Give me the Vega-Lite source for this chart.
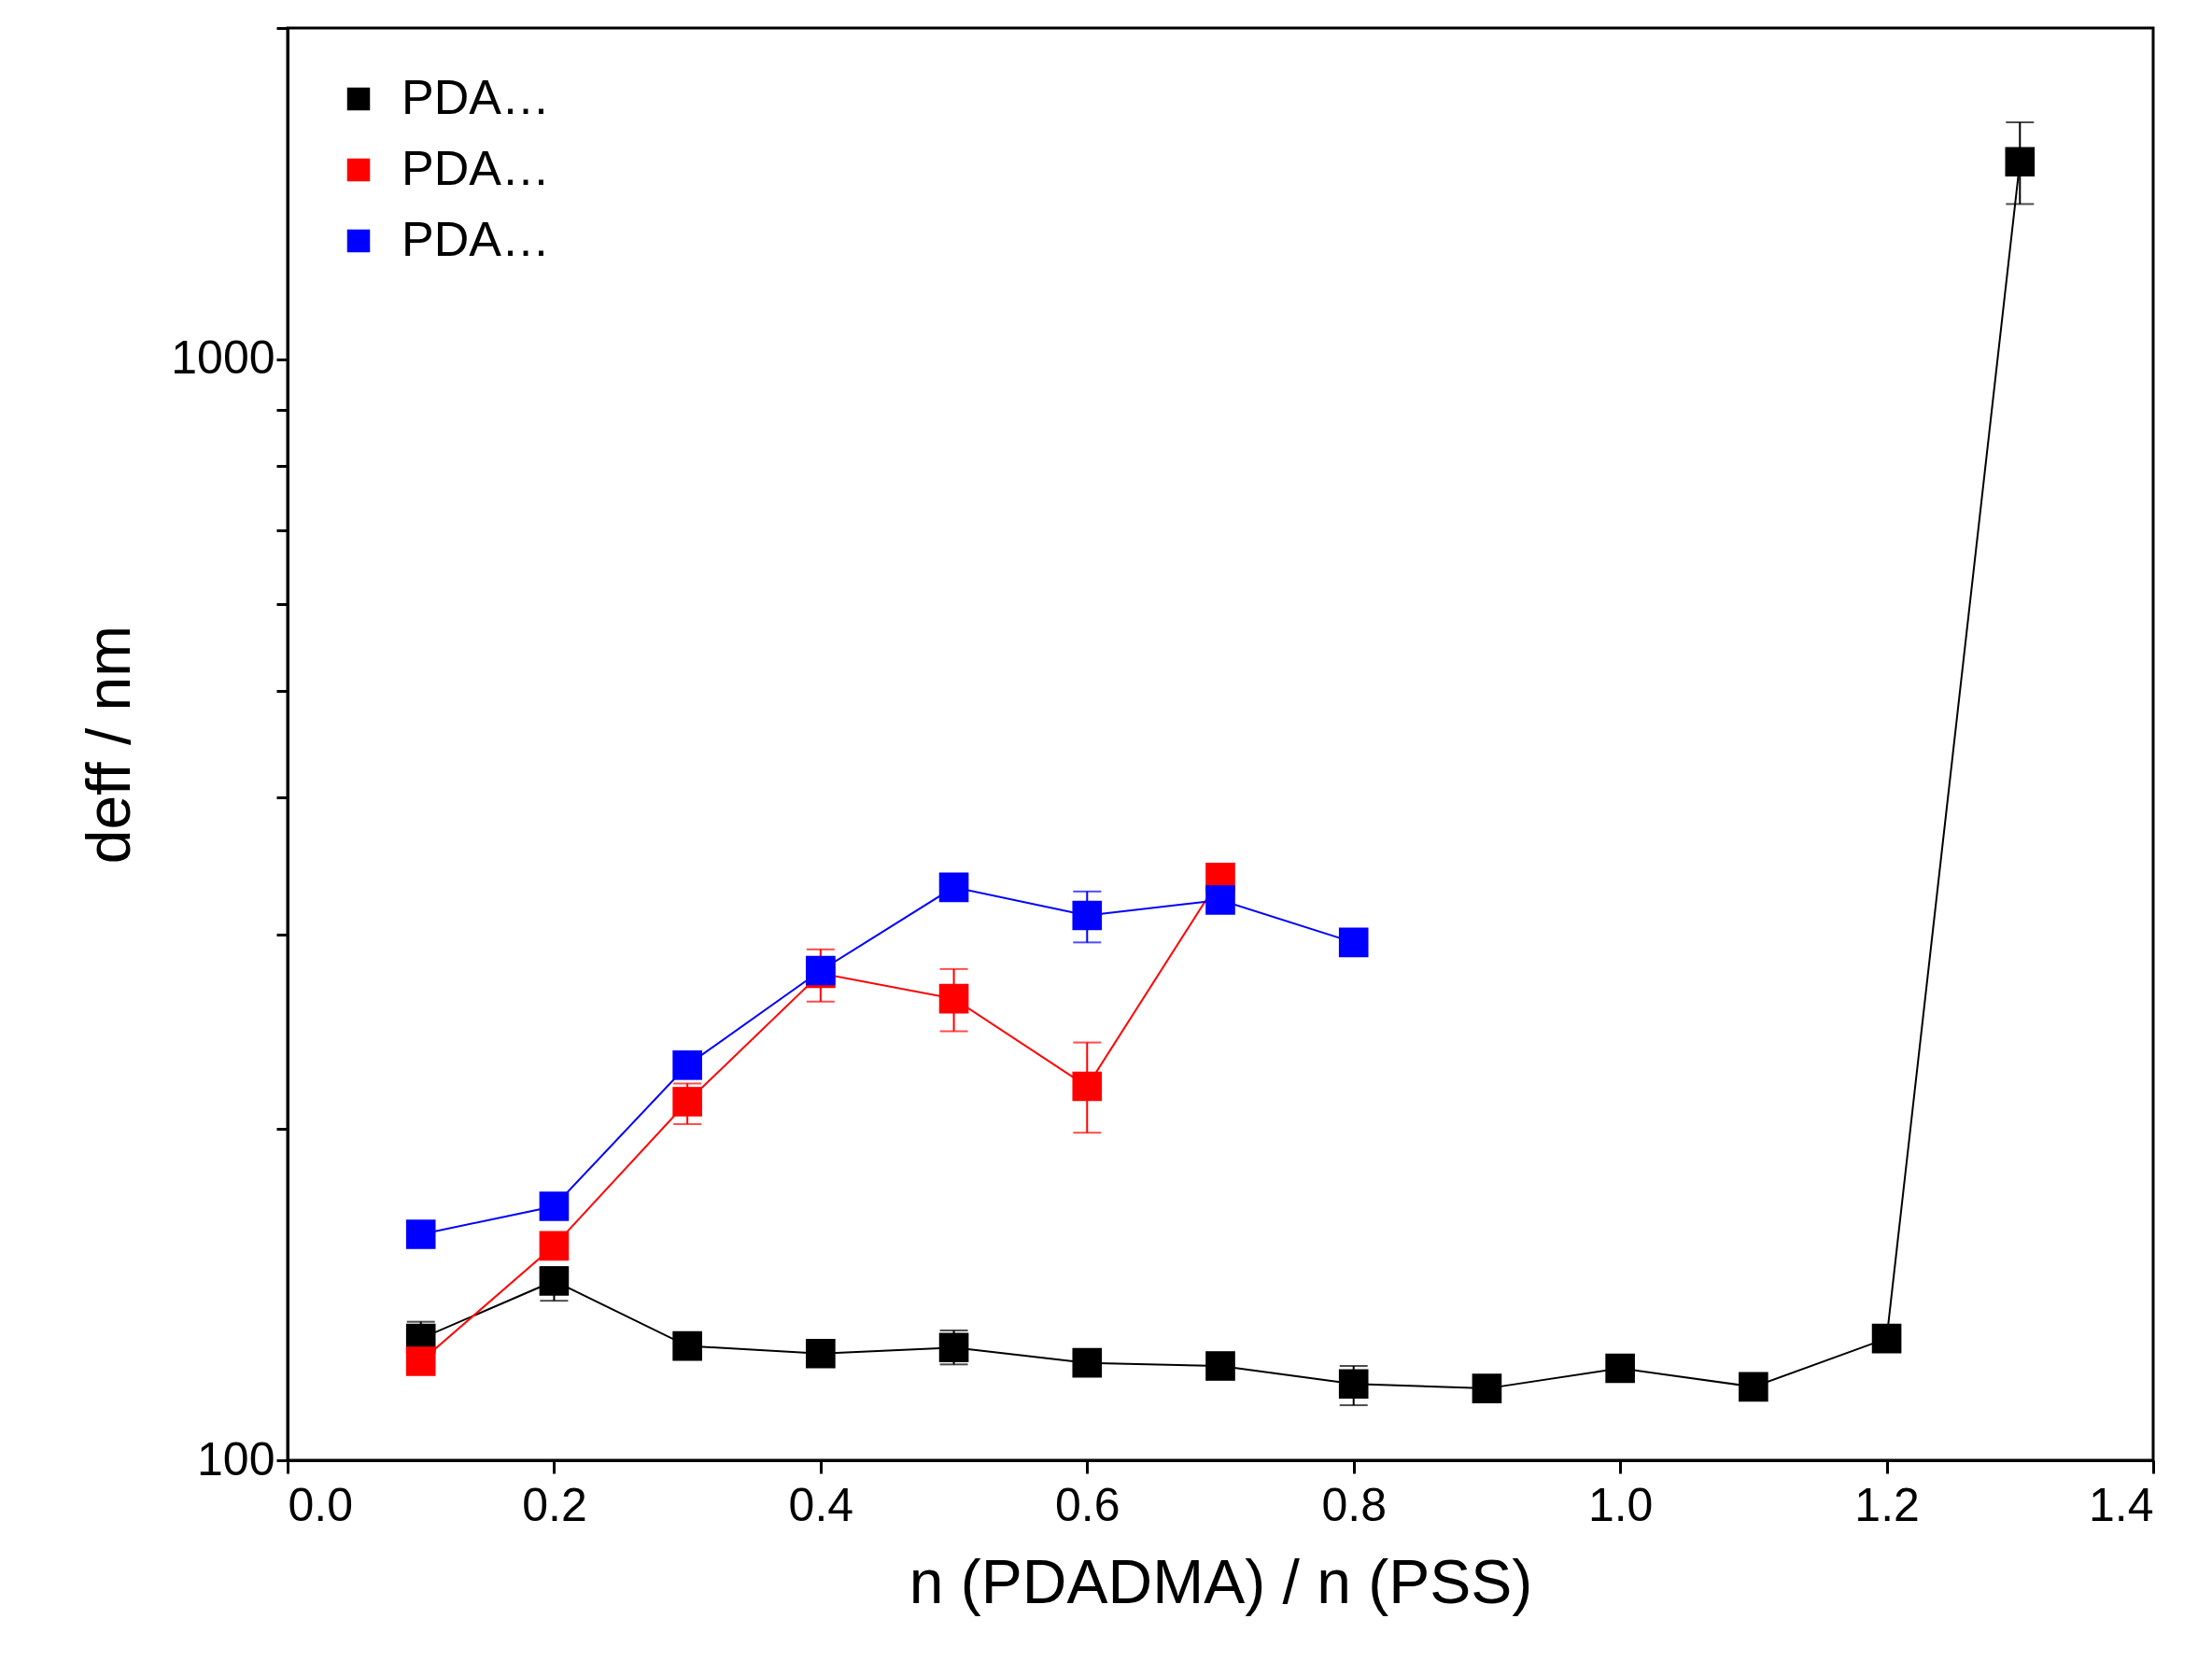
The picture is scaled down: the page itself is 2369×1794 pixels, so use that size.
{
  "$schema": "https://vega.github.io/schema/vega-lite/v6.json",
  "autosize": "none",
  "width": 1998,
  "height": 1534,
  "padding": {"left": 308, "top": 30, "right": 63, "bottom": 230},
  "background": "white",
  "config": {
    "font": "Arial",
    "view": {"stroke": "black", "strokeWidth": 3},
    "axis": {"domainColor": "black", "domainWidth": 3, "tickColor": "black", "tickWidth": 3, "labelColor": "black", "titleColor": "black", "labelFont": "Liberation Sans", "titleFont": "Liberation Sans", "titleFontWeight": "normal", "grid": false}
  },
  "data": {
    "values": [
      {"x": 0.1, "y": 129, "lo": 124.8, "hi": 133.6, "s": "PDADMA → PSS"},
      {"x": 0.2, "y": 145.5, "lo": 139.6, "hi": 149.8, "s": "PDADMA → PSS"},
      {"x": 0.3, "y": 127, "s": "PDADMA → PSS"},
      {"x": 0.4, "y": 125, "s": "PDADMA → PSS"},
      {"x": 0.5, "y": 126.6, "lo": 122.2, "hi": 131.2, "s": "PDADMA → PSS"},
      {"x": 0.6, "y": 122.6, "s": "PDADMA → PSS"},
      {"x": 0.7, "y": 121.8, "s": "PDADMA → PSS"},
      {"x": 0.8, "y": 117.3, "lo": 112.2, "hi": 121.8, "s": "PDADMA → PSS"},
      {"x": 0.9, "y": 116.2, "s": "PDADMA → PSS"},
      {"x": 1.0, "y": 121.2, "s": "PDADMA → PSS"},
      {"x": 1.1, "y": 116.6, "s": "PDADMA → PSS"},
      {"x": 1.2, "y": 129, "s": "PDADMA → PSS"},
      {"x": 1.3, "y": 1512, "lo": 1384, "hi": 1642, "s": "PDADMA → PSS"},
      {"x": 0.1, "y": 123, "s": "PDADMA → PSS, 0.1 mol dm⁻³ NaCl"},
      {"x": 0.2, "y": 156.6, "s": "PDADMA → PSS, 0.1 mol dm⁻³ NaCl"},
      {"x": 0.3, "y": 211.7, "lo": 202, "hi": 219.9, "s": "PDADMA → PSS, 0.1 mol dm⁻³ NaCl"},
      {"x": 0.4, "y": 276.9, "lo": 261, "hi": 291.1, "s": "PDADMA → PSS, 0.1 mol dm⁻³ NaCl"},
      {"x": 0.5, "y": 262.6, "lo": 245.3, "hi": 279.4, "s": "PDADMA → PSS, 0.1 mol dm⁻³ NaCl"},
      {"x": 0.6, "y": 218.6, "lo": 198.4, "hi": 239.6, "s": "PDADMA → PSS, 0.1 mol dm⁻³ NaCl"},
      {"x": 0.7, "y": 338.4, "s": "PDADMA → PSS, 0.1 mol dm⁻³ NaCl"},
      {"x": 0.1, "y": 160.4, "s": "PDADMA → PSS, 0.1 mol dm⁻³ NaBr"},
      {"x": 0.2, "y": 170.1, "s": "PDADMA → PSS, 0.1 mol dm⁻³ NaBr"},
      {"x": 0.3, "y": 228.5, "s": "PDADMA → PSS, 0.1 mol dm⁻³ NaBr"},
      {"x": 0.4, "y": 278.5, "s": "PDADMA → PSS, 0.1 mol dm⁻³ NaBr"},
      {"x": 0.5, "y": 331.5, "s": "PDADMA → PSS, 0.1 mol dm⁻³ NaBr"},
      {"x": 0.6, "y": 312.5, "lo": 295.4, "hi": 328.6, "s": "PDADMA → PSS, 0.1 mol dm⁻³ NaBr"},
      {"x": 0.7, "y": 322.8, "s": "PDADMA → PSS, 0.1 mol dm⁻³ NaBr"},
      {"x": 0.8, "y": 295.4, "s": "PDADMA → PSS, 0.1 mol dm⁻³ NaBr"}
    ]
  },
  "encoding": {
    "x": {"field": "x", "type": "quantitative", "scale": {"domain": [0, 1.4], "nice": false},
      "axis": {"values": [0, 0.2, 0.4, 0.6, 0.8, 1.0, 1.2, 1.4], "format": ".1f", "title": "n (PDADMA) / n (PSS)", "labelFontSize": 50, "titleFontSize": 66, "tickSize": 14, "labelPadding": 10, "titlePadding": 26}},
    "color": {"field": "s", "type": "nominal",
      "scale": {"domain": ["PDADMA → PSS", "PDADMA → PSS, 0.1 mol dm⁻³ NaCl", "PDADMA → PSS, 0.1 mol dm⁻³ NaBr"], "range": ["black", "#ff0000", "#0000ff"]},
      "legend": {"orient": "top-left", "title": null, "symbolType": "square", "symbolSize": 600, "labelFontSize": 52, "labelFont": "Liberation Sans", "labelColor": "black", "rowPadding": 24, "offset": 50, "symbolOpacity": 1, "symbolStrokeWidth": 0, "labelOffset": 20}}
  },
  "layer": [
    {
      "mark": {"type": "line", "strokeWidth": 2},
      "encoding": {
        "y": {"field": "y", "type": "quantitative", "scale": {"type": "log", "domain": [100, 2000], "nice": false},
          "axis": {"values": [100, 200, 300, 400, 500, 600, 700, 800, 900, 1000, 2000], "labelExpr": "datum.value == 100 || datum.value == 1000 ? datum.value : ''", "title": "deff / nm", "labelFontSize": 50, "titleFontSize": 66, "tickSize": 12, "titlePadding": 30}}
      }
    },
    {
      "transform": [{"filter": "datum.lo != null"}],
      "mark": {"type": "rule", "strokeWidth": 2},
      "encoding": {"y": {"field": "lo", "type": "quantitative"}, "y2": {"field": "hi"}}
    },
    {
      "transform": [{"filter": "datum.lo != null"}],
      "mark": {"type": "tick", "thickness": 2, "size": 30, "orient": "horizontal"},
      "encoding": {"y": {"field": "lo", "type": "quantitative"}}
    },
    {
      "transform": [{"filter": "datum.lo != null"}],
      "mark": {"type": "tick", "thickness": 2, "size": 30, "orient": "horizontal"},
      "encoding": {"y": {"field": "hi", "type": "quantitative"}}
    },
    {
      "mark": {"type": "point", "shape": "square", "filled": true, "opacity": 1, "size": 1000},
      "encoding": {"y": {"field": "y", "type": "quantitative"}}
    }
  ]
}
